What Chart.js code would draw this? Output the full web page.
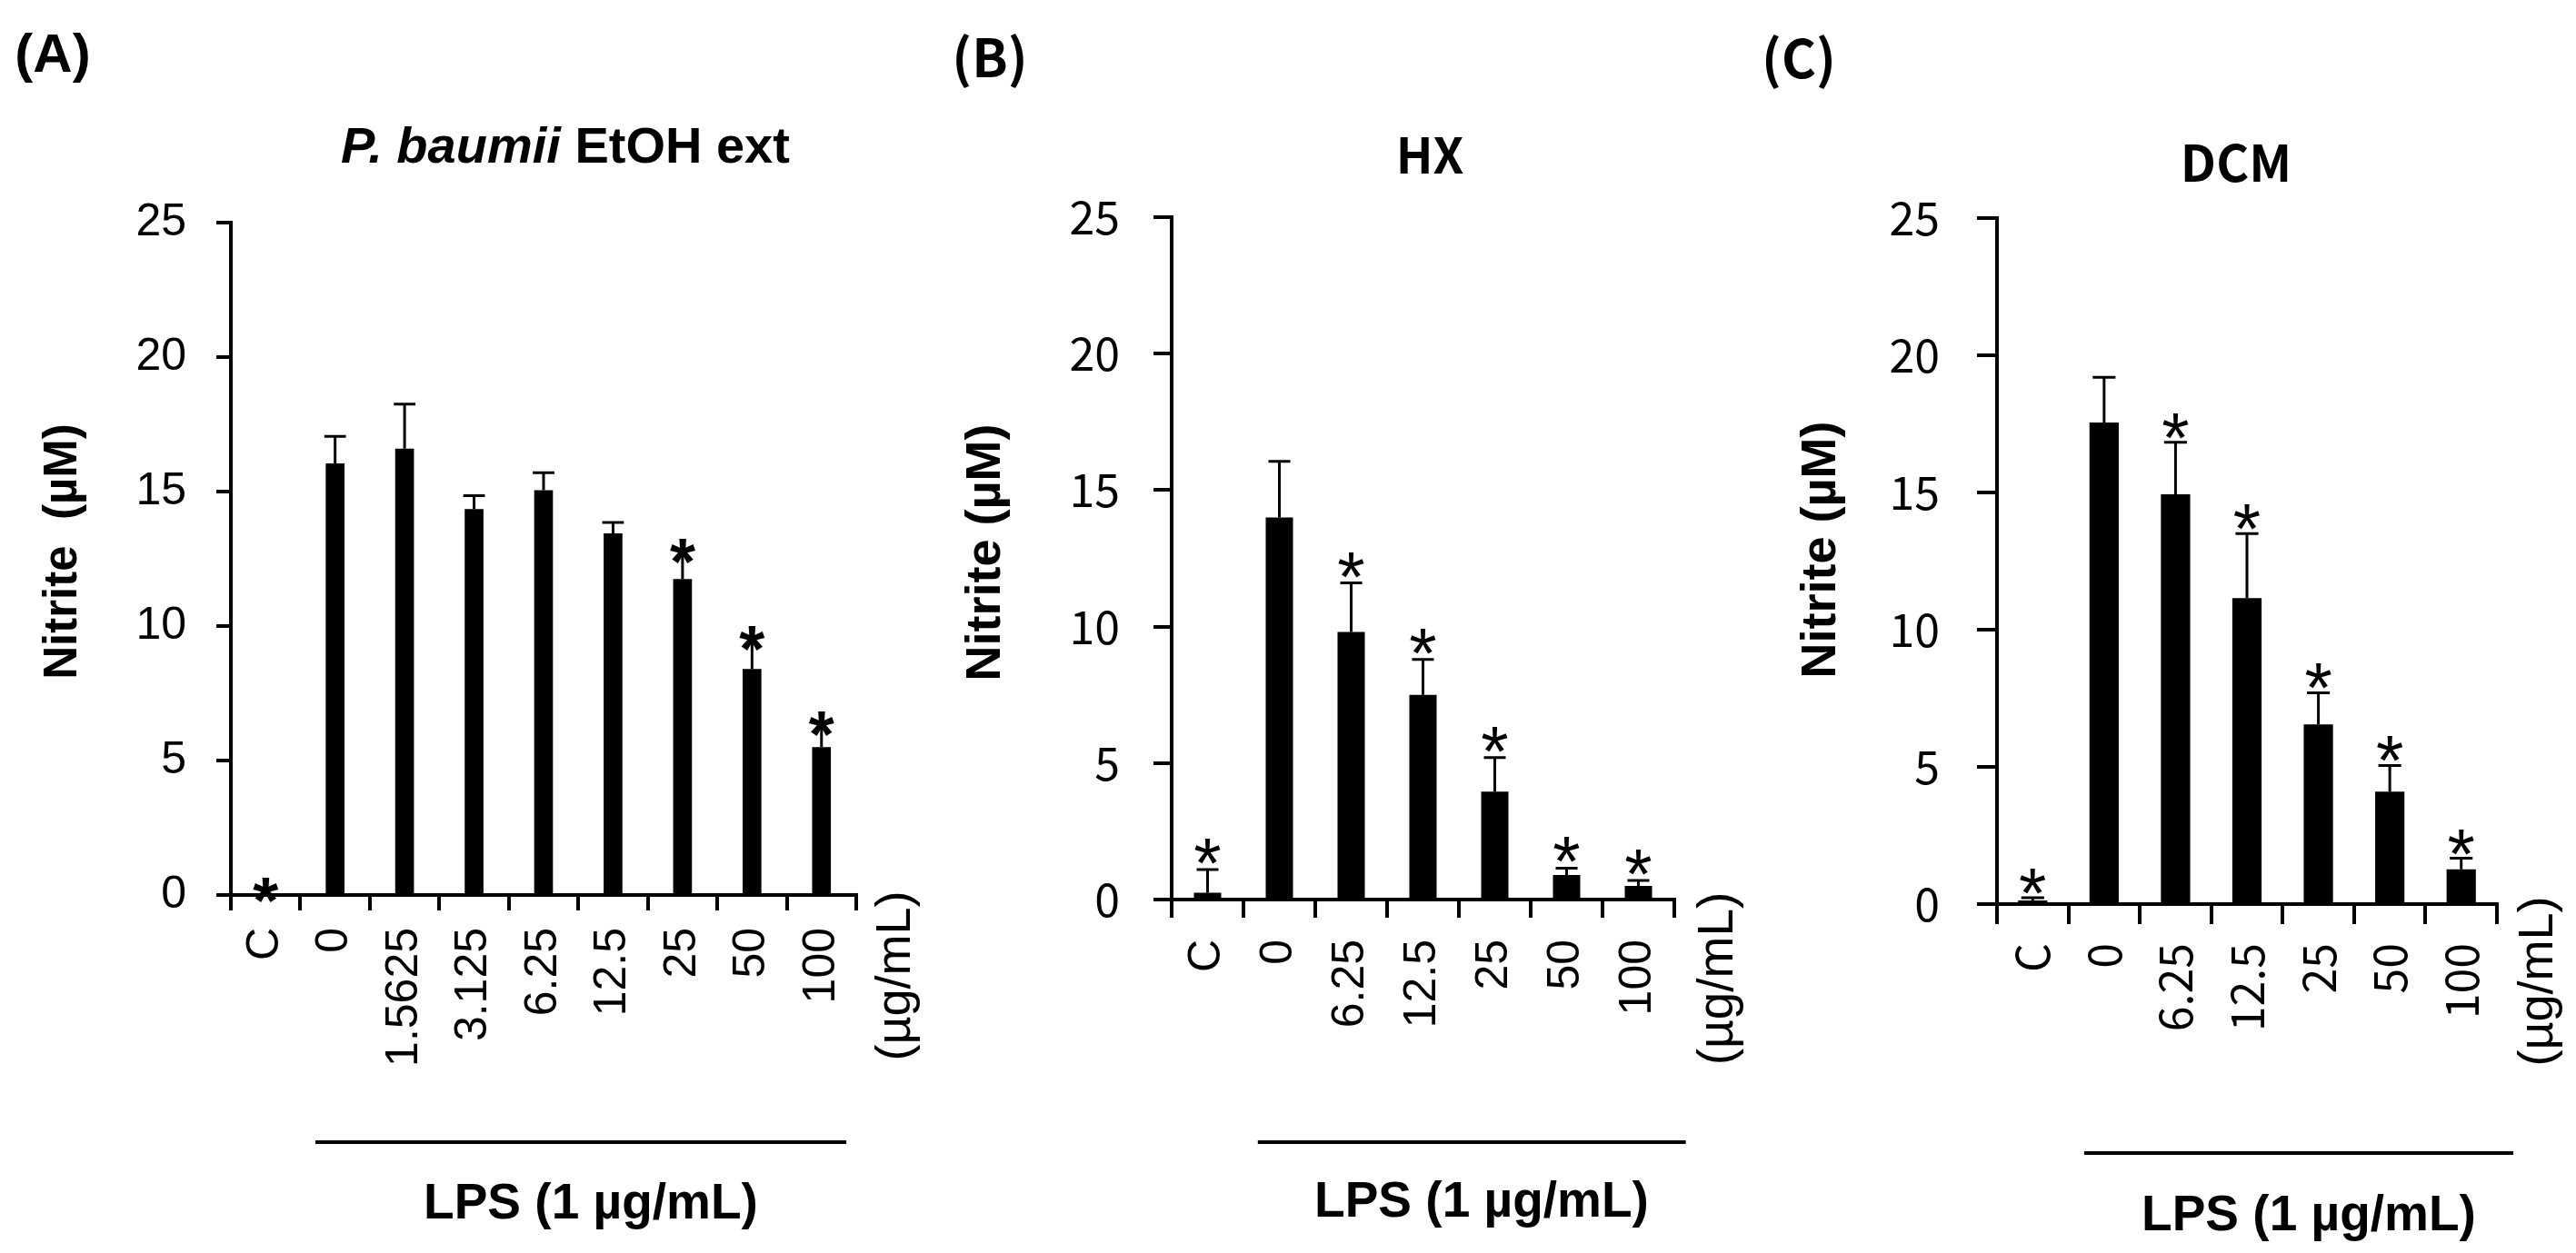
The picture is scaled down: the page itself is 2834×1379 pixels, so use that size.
<!DOCTYPE html>
<html>
<head>
<meta charset="utf-8">
<script src="https://cdn.jsdelivr.net/npm/chart.js@4.4.0/dist/chart.umd.min.js"></script>
<style>
  body { margin: 0; background: #fff; }
  #page { position: relative; width: 2834px; height: 1379px; overflow: hidden; background: #fff; }
  .panel { position: absolute; top: 0; height: 1379px; }
</style>
</head>
<body>
<div id="page">
  <div class="panel" style="left:0px;width:1050px"><canvas id="chartA"></canvas></div>
  <div class="panel" style="left:1000px;width:950px"><canvas id="chartB"></canvas></div>
  <div class="panel" style="left:1930px;width:904px"><canvas id="chartC"></canvas></div>
</div>
<script>
// ---- data ----
const yTicks = [0, 5, 10, 15, 20, 25];

const labelsA = ["C", "0", "1.5625", "3.125", "6.25", "12.5", "25", "50", "100"];
const nitriteA = [0.05, 16.05, 16.6, 14.35, 15.05, 13.45, 11.75, 8.4, 5.5];
const errorA = [0.15, 1.0, 1.65, 0.5, 0.65, 0.4, 1.05, 1.15, 0.86];
const starA = [true, false, false, false, false, false, true, true, true];

const labelsB = ["C", "0", "6.25", "12.5", "25", "50", "100"];
const nitriteB = [0.25, 14.0, 9.8, 7.5, 3.95, 0.9, 0.5];
const errorB = [0.85, 2.05, 1.8, 1.3, 1.25, 0.25, 0.2];
const starB = [true, false, true, true, true, true, true];

const labelsC = ["C", "0", "6.25", "12.5", "25", "50", "100"];
const nitriteC = [0.13, 17.55, 14.93, 11.15, 6.55, 4.1, 1.27];
const errorC = [0.1, 1.65, 1.9, 2.35, 1.15, 0.95, 0.4];
const starC = [true, false, true, true, true, true, true];

const ARIAL = '"Liberation Sans", Arial, sans-serif';
const KR = '"Noto Sans CJK KR", "Liberation Sans", sans-serif';

function rotText(ctx, text, x, y, font) {
  ctx.save();
  ctx.translate(x, y);
  ctx.rotate(-Math.PI / 2);
  ctx.font = font;
  ctx.textAlign = "center";
  ctx.textBaseline = "middle";
  ctx.fillText(text, 0, 0);
  ctx.restore();
}

function extras(p) {
  return {
    id: "extras",
    afterDatasetsDraw(chart) {
      const ctx = chart.ctx;
      const xs = chart.scales.x, ys = chart.scales.y;
      const bars = chart.getDatasetMeta(0).data;
      ctx.save();
      ctx.strokeStyle = "#000";
      ctx.fillStyle = "#000";
      ctx.lineWidth = 3;
      bars.forEach((bar, i) => {
        const top = ys.getPixelForValue(p.means[i] + p.errors[i]);
        const half = bar.width * p.capFrac / 2;
        ctx.beginPath();
        ctx.moveTo(bar.x, bar.y);
        ctx.lineTo(bar.x, top);
        if (!(p.starOnTip && p.stars[i])) {
          ctx.moveTo(bar.x - half, top);
          ctx.lineTo(bar.x + half, top);
        }
        ctx.stroke();
        if (p.stars[i]) {
          ctx.font = p.starFont;
          ctx.textAlign = "center";
          ctx.textBaseline = "alphabetic";
          const m = ctx.measureText("*");
          let base;
          if (p.starOnTip) {
            base = top - (m.actualBoundingBoxDescent - m.actualBoundingBoxAscent) / 2;
          } else {
            base = top - p.starGap - m.actualBoundingBoxDescent;
          }
          ctx.fillText("*", bar.x, base);
        }
      });

      const L = p.left;
      // y axis title
      rotText(ctx, p.yTitle, p.yTitleX - L, p.yTitleY, p.yTitleFont);
      // unit after the last category
      rotText(ctx, "(\u00b5g/mL)", p.unitX - L, p.unitY, p.unitFont);

      // panel letter
      ctx.font = p.letterFont;
      ctx.textAlign = "center";
      ctx.textBaseline = "middle";
      ctx.fillText(p.letter, p.letterX - L, p.letterY);

      // panel title
      ctx.textBaseline = "middle";
      if (p.titleItalic) {
        ctx.font = "italic bold 56px " + ARIAL;
        const w1 = ctx.measureText(p.titleItalic).width;
        ctx.font = "bold 56px " + ARIAL;
        const w2 = ctx.measureText(p.title).width;
        let x0 = p.titleX - L - (w1 + w2) / 2;
        ctx.textAlign = "left";
        ctx.font = "italic bold 56px " + ARIAL;
        ctx.fillText(p.titleItalic, x0, p.titleY);
        ctx.font = "bold 56px " + ARIAL;
        ctx.fillText(p.title, x0 + w1, p.titleY);
      } else {
        ctx.font = p.titleFont;
        ctx.textAlign = "center";
        ctx.fillText(p.title, p.titleX - L, p.titleY);
      }

      // LPS bracket line and label
      const x1 = xs.getPixelForValue(p.lpsFrom);
      const x2 = xs.getPixelForValue(p.lpsTo);
      ctx.lineWidth = 4;
      ctx.beginPath();
      ctx.moveTo(x1, p.lpsLineY);
      ctx.lineTo(x2, p.lpsLineY);
      ctx.stroke();
      ctx.font = "bold 55px " + ARIAL;
      ctx.textAlign = "center";
      ctx.textBaseline = "alphabetic";
      ctx.fillText("LPS (1 \u00b5g/mL)", p.lpsTextX - L, p.lpsBase);
      ctx.restore();
    }
  };
}

function makeChart(id, labels, means, p) {
  const ctx = document.getElementById(id).getContext("2d");
  return new Chart(ctx, {
    type: "bar",
    data: {
      labels: labels,
      datasets: [{
        data: means,
        backgroundColor: "#000",
        borderWidth: 0,
        barPercentage: 1,
        categoryPercentage: p.barFrac
      }]
    },
    options: {
      responsive: true,
      maintainAspectRatio: false,
      animation: false,
      layout: { padding: p.pad },
      plugins: { legend: { display: false }, tooltip: { enabled: false } },
      scales: {
        x: {
          offset: true,
          grid: { offset: true, drawOnChartArea: false, tickLength: p.xTick, lineWidth: 4, color: "#000" },
          border: { display: true, color: "#000", width: 4 },
          ticks: {
            color: "#000", font: { family: p.xFont, size: 50 },
            minRotation: 90, maxRotation: 90, autoSkip: false, padding: p.xPad
          },
          afterFit: s => { s.height = 200; }
        },
        y: {
          min: 0,
          max: 25,
          grid: { drawOnChartArea: false, tickLength: p.yTick, lineWidth: 4, color: "#000" },
          border: { display: true, color: "#000", width: 4 },
          ticks: { color: "#000", font: { family: p.yFont, size: 50 }, padding: p.yPad },
          afterBuildTicks: s => { s.ticks = yTicks.map(v => ({ value: v })); },
          afterFit: s => { s.width = 200; }
        }
      }
    },
    plugins: [extras(Object.assign({ means: means }, p))]
  });
}

function build() {
  makeChart("chartA", labelsA, nitriteA, {
    left: 0, errors: errorA, stars: starA, starOnTip: true, capFrac: 1.15,
    starFont: "bold 72px " + ARIAL,
    barFrac: 0.27, pad: { left: 54, right: 108, top: 245, bottom: 194 },
    xTick: 17, xPad: 19, yTick: 16, yPad: 33, xFont: ARIAL, yFont: ARIAL,
    yTitle: "Nitrite  (\u00b5M)", yTitleX: 70, yTitleY: 607, yTitleFont: "bold 51px " + ARIAL,
    unitX: 986, unitY: 1074, unitFont: "54px " + ARIAL,
    letter: "(A)", letterX: 58, letterY: 62, letterFont: "bold 60px " + ARIAL,
    titleItalic: "P. baumii", title: " EtOH ext", titleX: 622, titleY: 164,
    lpsFrom: 0.717, lpsTo: 8.357, lpsLineY: 1257, lpsTextX: 650, lpsBase: 1341
  });
  makeChart("chartB", labelsB, nitriteB, {
    left: 1000, errors: errorB, stars: starB, starOnTip: false, starGap: 6, capFrac: 0.8,
    starFont: "78px " + ARIAL,
    barFrac: 0.38, pad: { left: 89, right: 108, top: 239, bottom: 189 },
    xTick: 20, xPad: 24, yTick: 20, yPad: 37, xFont: ARIAL, yFont: KR,
    yTitle: "Nitrite (\u00b5M)", yTitleX: 1085, yTitleY: 608, yTitleFont: "bold 54px " + ARIAL,
    unitX: 1891, unitY: 1077, unitFont: "55px " + ARIAL,
    letter: "(B)", letterX: 1089, letterY: 63, letterFont: "bold 58px " + KR,
    title: "HX", titleFont: "bold 54px " + KR, titleX: 1573, titleY: 170,
    lpsFrom: 0.70, lpsTo: 6.66, lpsLineY: 1257, lpsTextX: 1630, lpsBase: 1339
  });
  makeChart("chartC", labelsC, nitriteC, {
    left: 1930, errors: errorC, stars: starC, starOnTip: false, starGap: 4, capFrac: 0.78,
    starFont: "78px " + ARIAL,
    barFrac: 0.41, pad: { left: 67, right: 87, top: 240, bottom: 184 },
    xTick: 22, xPad: 21, yTick: 22, yPad: 41, xFont: KR, yFont: KR,
    yTitle: "Nitrite (\u00b5M)", yTitleX: 2004, yTitleY: 605, yTitleFont: "bold 54px " + ARIAL,
    unitX: 2793, unitY: 1080, unitFont: "54px " + ARIAL,
    letter: "(C)", letterX: 1979, letterY: 64, letterFont: "bold 58px " + KR,
    title: "DCM", titleFont: "bold 55px " + KR, titleX: 2460, titleY: 179,
    lpsFrom: 0.72, lpsTo: 6.73, lpsLineY: 1269, lpsTextX: 2540, lpsBase: 1354
  });
}

Promise.all([
  document.fonts.load('50px "Liberation Sans"'),
  document.fonts.load('bold 50px "Liberation Sans"'),
  document.fonts.load('italic bold 50px "Liberation Sans"'),
  document.fonts.load('50px "Noto Sans CJK KR"'),
  document.fonts.load('bold 50px "Noto Sans CJK KR"')
]).then(build, build);
</script>
</body>
</html>
